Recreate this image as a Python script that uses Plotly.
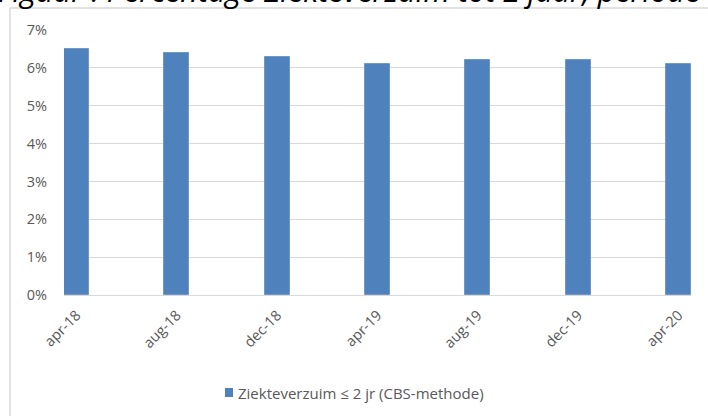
import plotly.graph_objects as go

categories = ["apr-18", "aug-18", "dec-18", "apr-19", "aug-19", "dec-19", "apr-20"]
values = [6.5, 6.4, 6.3, 6.1, 6.2, 6.2, 6.1]
series_name = "Ziekteverzuim ≤ 2 jr (CBS-methode)"
title_text = "Figuur : Percentage Ziekteverzuim tot 2 jaar, periode april 2018 - april 2020"
y_ticks = [0, 1, 2, 3, 4, 5, 6, 7]

W, H = 708, 416
L, R, T, B = 64, 17, 30, 121
pw, ph = W - L - R, H - T - B

def px(x):
    return (x - L) / pw

def py(y):
    return (H - B - y) / ph

FONT = "Open Sans"
GREY = "#595959"
BLUE = "#4F81BD"

fig = go.Figure()
fig.add_trace(go.Bar(
    x=list(range(len(categories))), y=values, name=series_name,
    width=0.25, marker=dict(color=BLUE, line=dict(color="#6f97c8", width=1)),
    showlegend=False,
))

fig.update_layout(
    width=W, height=H,
    margin=dict(l=L, r=R, t=T, b=B, pad=0),
    paper_bgcolor="white", plot_bgcolor="white",
    font=dict(family=FONT, size=14, color=GREY),
    bargap=0,
    showlegend=False,
    xaxis=dict(range=[-0.125, 6.125], tickmode="array", tickvals=list(range(len(categories))),
               ticktext=categories, tickangle=-45, showgrid=False, zeroline=False,
               showline=False, ticks="", fixedrange=True, ticklabelstandoff=8,
               tickfont=dict(family=FONT, size=14.5, color=GREY)),
    yaxis=dict(range=[0, 7], tickmode="array", tickvals=y_ticks,
               ticktext=[f"{v}%" for v in y_ticks], showgrid=True, gridcolor="#d9d9d9",
               gridwidth=1, zeroline=True, zerolinecolor="#d9d9d9", zerolinewidth=1,
               showline=False, ticks="", ticklabelstandoff=16,
               tickfont=dict(family=FONT, size=14.5, color=GREY)),
    shapes=[
        dict(type="line", xref="paper", yref="paper", x0=px(10), x1=px(10), y0=py(8), y1=py(420),
             line=dict(color="#d9d9d9", width=1.5)),
        dict(type="line", xref="paper", yref="paper", x0=px(10), x1=px(712), y0=py(8), y1=py(8),
             line=dict(color="#d9d9d9", width=1.5)),
        dict(type="rect", xref="paper", yref="paper", x0=px(225), x1=px(233), y0=py(388), y1=py(397),
             fillcolor=BLUE, line=dict(width=0)),
    ],
    annotations=[
        dict(text="<i>" + title_text + "</i>", xref="paper", yref="paper", x=px(-4), y=py(13),
             xanchor="left", yanchor="bottom", showarrow=False,
             font=dict(family="Open Sans", size=30.5, color="black")),
        dict(text=series_name, xref="paper", yref="paper", x=px(236), y=py(392.5),
             xanchor="left", yanchor="middle", showarrow=False,
             font=dict(family=FONT, size=15, color=GREY)),
    ],
)

fig.write_html("out.html", config={"displayModeBar": False},
               post_script="document.body.style.margin='0';document.body.style.overflow='hidden';")
